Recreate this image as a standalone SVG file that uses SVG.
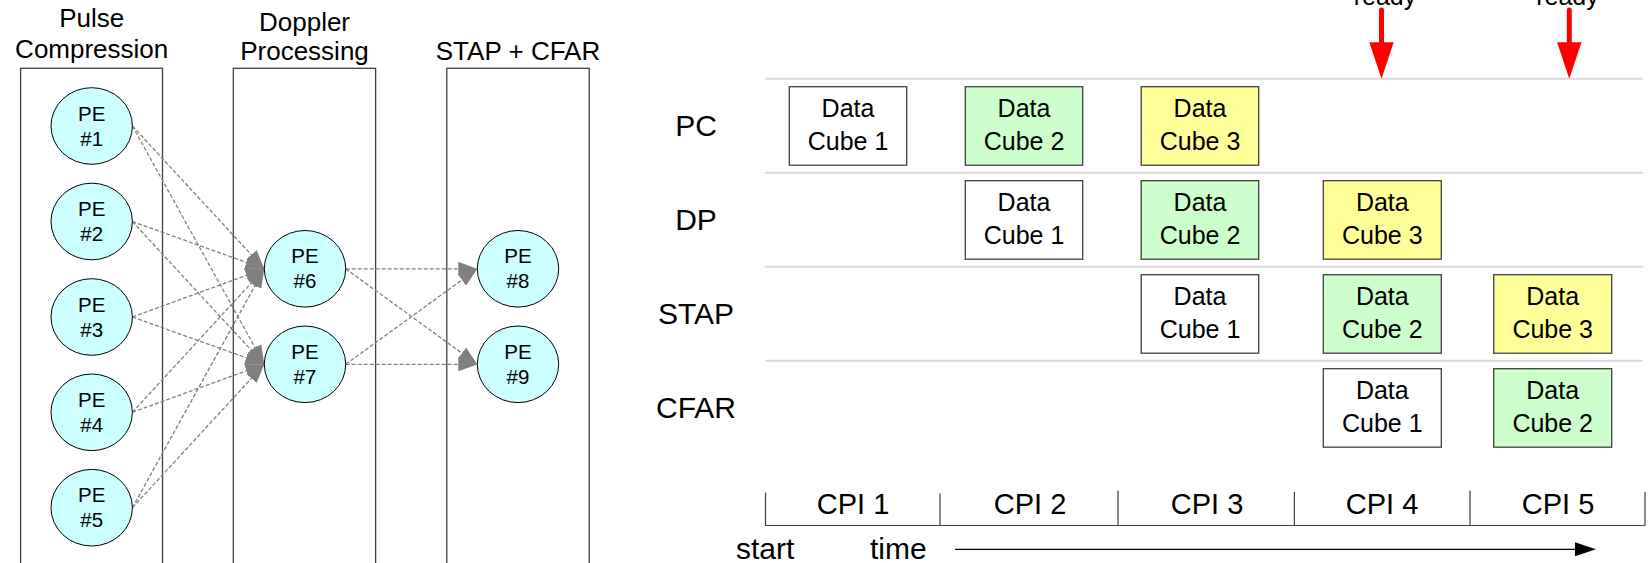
<svg xmlns="http://www.w3.org/2000/svg" width="1652" height="563" viewBox="0 0 1652 563">
<defs>
<style>
text{font-family:"Liberation Sans",Arial,sans-serif;fill:#000}
.lane{fill:none;stroke:#404040;stroke-width:1.3}
.title{font-size:26px;text-anchor:middle}
.pe ellipse{fill:#ccffff;stroke:#000;stroke-width:1}
.pe text{font-size:20.5px;text-anchor:middle}
.conn{fill:none;stroke:#808080;stroke-width:1.3;stroke-dasharray:4 2;marker-end:url(#ah)}
.grid{stroke:#d9d9d9;stroke-width:2}
.cube rect{stroke:#404040;stroke-width:1.3}
.cube text{font-size:25px;text-anchor:middle}
.w{fill:#ffffff}.g{fill:#ccffcc}.y{fill:#ffff99}
.row{font-size:30px;text-anchor:middle}
.cpi{font-size:29px;text-anchor:middle}
.tl{stroke:#404040;stroke-width:1.2;fill:none}
.red{stroke:#ff0000;stroke-width:5;stroke-linecap:round}
</style>
<marker id="ah" markerWidth="19" markerHeight="14" refX="19" refY="7" orient="auto" markerUnits="userSpaceOnUse">
<path d="M0,0 L19,7 L0,14 z" fill="#808080"/>
</marker>
</defs>
<rect width="1652" height="563" fill="#ffffff"/>

<g id="lanes">
<rect class="lane" x="20.6" y="68.3" width="141.9" height="520"/>
<rect class="lane" x="233.3" y="68.3" width="142.3" height="520"/>
<rect class="lane" x="446.8" y="68.3" width="142.4" height="520"/>
<text class="title" x="91.7" y="27">Pulse</text>
<text class="title" x="91.7" y="57.5">Compression</text>
<text class="title" x="304.5" y="30.5">Doppler</text>
<text class="title" x="304.5" y="60">Processing</text>
<text class="title" x="518" y="60">STAP + CFAR</text>
</g>

<g id="connectors">
<line class="conn" x1="132.4" y1="126" x2="264.3" y2="268.8"/>
<line class="conn" x1="132.4" y1="126" x2="264.3" y2="364.3"/>
<line class="conn" x1="132.4" y1="221.5" x2="264.3" y2="268.8"/>
<line class="conn" x1="132.4" y1="221.5" x2="264.3" y2="364.3"/>
<line class="conn" x1="132.4" y1="317" x2="264.3" y2="268.8"/>
<line class="conn" x1="132.4" y1="317" x2="264.3" y2="364.3"/>
<line class="conn" x1="132.4" y1="412.3" x2="264.3" y2="268.8"/>
<line class="conn" x1="132.4" y1="412.3" x2="264.3" y2="364.3"/>
<line class="conn" x1="132.4" y1="507.7" x2="264.3" y2="268.8"/>
<line class="conn" x1="132.4" y1="507.7" x2="264.3" y2="364.3"/>
<line class="conn" x1="345.7" y1="268.8" x2="477.3" y2="268.8"/>
<line class="conn" x1="345.7" y1="268.8" x2="477.3" y2="364.3"/>
<line class="conn" x1="345.7" y1="364.3" x2="477.3" y2="268.8"/>
<line class="conn" x1="345.7" y1="364.3" x2="477.3" y2="364.3"/>
</g>

<g id="pe1" class="pe"><ellipse cx="91.7" cy="126" rx="40.7" ry="38.3"/><text x="91.7" y="120.5">PE</text><text x="91.7" y="145.5">#1</text></g>
<g id="pe2" class="pe"><ellipse cx="91.7" cy="221.5" rx="40.7" ry="38.3"/><text x="91.7" y="216">PE</text><text x="91.7" y="241">#2</text></g>
<g id="pe3" class="pe"><ellipse cx="91.7" cy="317" rx="40.7" ry="38.3"/><text x="91.7" y="311.5">PE</text><text x="91.7" y="336.5">#3</text></g>
<g id="pe4" class="pe"><ellipse cx="91.7" cy="412.3" rx="40.7" ry="38.3"/><text x="91.7" y="406.8">PE</text><text x="91.7" y="431.8">#4</text></g>
<g id="pe5" class="pe"><ellipse cx="91.7" cy="507.7" rx="40.7" ry="38.3"/><text x="91.7" y="502.2">PE</text><text x="91.7" y="527.2">#5</text></g>
<g id="pe6" class="pe"><ellipse cx="305" cy="268.8" rx="40.7" ry="38.3"/><text x="305" y="263.3">PE</text><text x="305" y="288.3">#6</text></g>
<g id="pe7" class="pe"><ellipse cx="305" cy="364.3" rx="40.7" ry="38.3"/><text x="305" y="358.8">PE</text><text x="305" y="383.8">#7</text></g>
<g id="pe8" class="pe"><ellipse cx="518" cy="268.8" rx="40.7" ry="38.3"/><text x="518" y="263.3">PE</text><text x="518" y="288.3">#8</text></g>
<g id="pe9" class="pe"><ellipse cx="518" cy="364.3" rx="40.7" ry="38.3"/><text x="518" y="358.8">PE</text><text x="518" y="383.8">#9</text></g>

<g id="grid">
<line class="grid" x1="765" y1="78.7" x2="1643" y2="78.7"/>
<line class="grid" x1="765" y1="172.7" x2="1643" y2="172.7"/>
<line class="grid" x1="765" y1="266.7" x2="1643" y2="266.7"/>
<line class="grid" x1="765" y1="360.7" x2="1643" y2="360.7"/>
</g>

<g id="row-labels">
<text class="row" x="696" y="135.5">PC</text>
<text class="row" x="696" y="229.5">DP</text>
<text class="row" x="696" y="323.5">STAP</text>
<text class="row" x="696" y="417.5">CFAR</text>
</g>

<g id="pc-c1" class="cube"><rect class="w" x="789.3" y="86.7" width="117.4" height="78.5"/><text x="848" y="117">Data</text><text x="848" y="150">Cube 1</text></g>
<g id="pc-c2" class="cube"><rect class="g" x="965.3" y="86.7" width="117.4" height="78.5"/><text x="1024" y="117">Data</text><text x="1024" y="150">Cube 2</text></g>
<g id="pc-c3" class="cube"><rect class="y" x="1141.2" y="86.7" width="117.5" height="78.5"/><text x="1200" y="117">Data</text><text x="1200" y="150">Cube 3</text></g>

<g id="dp-c1" class="cube"><rect class="w" x="965.3" y="180.7" width="117.4" height="78.5"/><text x="1024" y="211">Data</text><text x="1024" y="244">Cube 1</text></g>
<g id="dp-c2" class="cube"><rect class="g" x="1141.2" y="180.7" width="117.5" height="78.5"/><text x="1200" y="211">Data</text><text x="1200" y="244">Cube 2</text></g>
<g id="dp-c3" class="cube"><rect class="y" x="1323.3" y="180.7" width="118" height="78.5"/><text x="1382.3" y="211">Data</text><text x="1382.3" y="244">Cube 3</text></g>

<g id="stap-c1" class="cube"><rect class="w" x="1141.2" y="274.7" width="117.5" height="78.5"/><text x="1200" y="305">Data</text><text x="1200" y="338">Cube 1</text></g>
<g id="stap-c2" class="cube"><rect class="g" x="1323.3" y="274.7" width="118" height="78.5"/><text x="1382.3" y="305">Data</text><text x="1382.3" y="338">Cube 2</text></g>
<g id="stap-c3" class="cube"><rect class="y" x="1493.7" y="274.7" width="118" height="78.5"/><text x="1552.7" y="305">Data</text><text x="1552.7" y="338">Cube 3</text></g>

<g id="cfar-c1" class="cube"><rect class="w" x="1323.3" y="368.7" width="118" height="78.5"/><text x="1382.3" y="399">Data</text><text x="1382.3" y="432">Cube 1</text></g>
<g id="cfar-c2" class="cube"><rect class="g" x="1493.7" y="368.7" width="118" height="78.5"/><text x="1552.7" y="399">Data</text><text x="1552.7" y="432">Cube 2</text></g>

<g id="ready-arrows">
<text x="1385" y="5" style="font-size:25px;text-anchor:middle">ready</text>
<text x="1567.5" y="5" style="font-size:25px;text-anchor:middle">ready</text>
<line class="red" x1="1381.5" y1="10" x2="1381.5" y2="46"/>
<polygon points="1369.3,42.3 1393.7,42.3 1381.5,78.7" fill="#ff0000"/>
<line class="red" x1="1569.3" y1="10" x2="1569.3" y2="46"/>
<polygon points="1557.1,42.3 1581.5,42.3 1569.3,78.7" fill="#ff0000"/>
</g>

<g id="timeline">
<path class="tl" d="M765.5,492.5 V525.5 H1645 M940,493.5 V525.5 M1118,490.5 V525.5 M1294.4,492 V525.5 M1470,490.5 V525.5 M1645,492 V525.5"/>
<text class="cpi" x="853" y="513.5">CPI 1</text>
<text class="cpi" x="1030" y="513.5">CPI 2</text>
<text class="cpi" x="1207" y="513.5">CPI 3</text>
<text class="cpi" x="1382" y="513.5">CPI 4</text>
<text class="cpi" x="1558" y="513.5">CPI 5</text>
<text x="736" y="559" style="font-size:30px">start</text>
<text x="870" y="559" style="font-size:30px">time</text>
<line x1="955" y1="549.3" x2="1578" y2="549.3" stroke="#000" stroke-width="1.2"/>
<polygon points="1575,542.3 1596,549.3 1575,556.3" fill="#000"/>
</g>
</svg>
